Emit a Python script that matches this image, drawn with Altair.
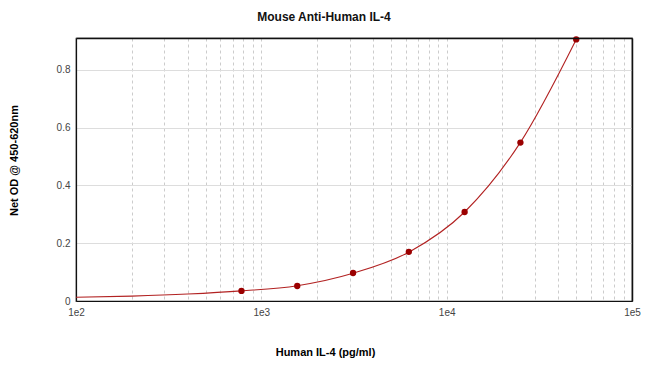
import altair as alt
import pandas as pd

# Standards (pg/ml) and measured OD
std_conc = [781.25, 1562.5, 3125, 6250, 12500, 25000, 50000]
std_od = [0.035, 0.052, 0.097, 0.170, 0.308, 0.548, 0.905]

# Fitted curve
curve_conc = [100, 200, 400, 781.25, 1562.5, 3125, 6250, 12500, 25000, 50000]
curve_od = [0.013, 0.017, 0.024, 0.035, 0.053, 0.096, 0.169, 0.308, 0.549, 0.905]

grid_values = [m * 10 ** k for k in (2, 3, 4) for m in range(1, 10)] + [100000]
major_values = [100, 1000, 10000, 100000]
y_ticks = [0, 0.2, 0.4, 0.6, 0.8]

W, H = 556, 263

pts = pd.DataFrame({"conc": std_conc, "od": std_od})
crv = pd.DataFrame({"conc": curve_conc, "od": curve_od})

label_expr = ("indexof(" + str(major_values) + ", datum.value) >= 0 ? "
              "replace(format(datum.value, '.0e'), '+', '') : ''")

x_scale = alt.Scale(type="log", domain=[100, 100000], nice=False)
y_scale = alt.Scale(domain=[0, 0.91], nice=False)

x_enc = alt.X("conc:Q", scale=x_scale,
              axis=alt.Axis(values=grid_values, labelExpr=label_expr,
                            title="Human IL-4 (pg/ml)", grid=True,
                            gridDash=[3, 3], gridColor="#cccccc",
                            ticks=False, domain=True, domainColor="#111111",
                            domainWidth=1.2, labelFlush=False,
                            labelPadding=6, labelFontSize=10, labelColor="#444444",
                            titleFontSize=11, titleFontWeight="bold",
                            titleX=249, titleY=51, titleBaseline="middle",
                            titleFont="Liberation Sans", labelFont="Liberation Sans"))
y_enc = alt.Y("od:Q", scale=y_scale,
              axis=alt.Axis(values=y_ticks, format=".1~f", title="Net OD @ 450-620nm",
                            grid=True, gridColor="#dddddd", ticks=False,
                            domain=True, domainColor="#111111", domainWidth=1.2,
                            labelPadding=6, labelFontSize=10,
                            labelColor="#444444", titleFontSize=11,
                            titleFontWeight="bold", titleX=-62, titleY=122,
                            titleBaseline="middle", titleAngle=-90,
                            titleFont="Liberation Sans", labelFont="Liberation Sans"))

# invisible layer that only supplies the top and right frame lines
frame_axis = dict(labels=False, ticks=False, grid=False, title=None, domain=True,
                  domainColor="#111111", domainWidth=1.5, zindex=2)
frame = alt.Chart(pts).mark_point(opacity=0).encode(
    x=alt.X("conc:Q", scale=x_scale, axis=alt.Axis(orient="top", **frame_axis)),
    y=alt.Y("od:Q", scale=y_scale, axis=alt.Axis(orient="right", **frame_axis)),
)

line = alt.Chart(crv).mark_line(color="#b22222", strokeWidth=1.1,
                                interpolate="monotone").encode(x=x_enc, y=y_enc)
points = alt.Chart(pts).mark_point(filled=True, color="#9b0000", size=40,
                                   opacity=1).encode(x="conc:Q", y="od:Q")

chart = alt.layer(alt.layer(line, points), frame).resolve_axis(
    x="independent", y="independent"
).properties(
    width=W, height=H,
    title=alt.TitleParams("Mouse Anti-Human IL-4", fontSize=12, fontWeight="bold",
                          font="Liberation Sans", dx=-30, offset=12, color="#111111"),
    autosize=alt.AutoSizeParams(type="none"),
    padding={"left": 68, "top": 30, "right": 10, "bottom": 70},
).configure_view(stroke="#111111", strokeWidth=1.2)

chart.save("out.html", embed_options={"renderer": "svg", "actions": False})
